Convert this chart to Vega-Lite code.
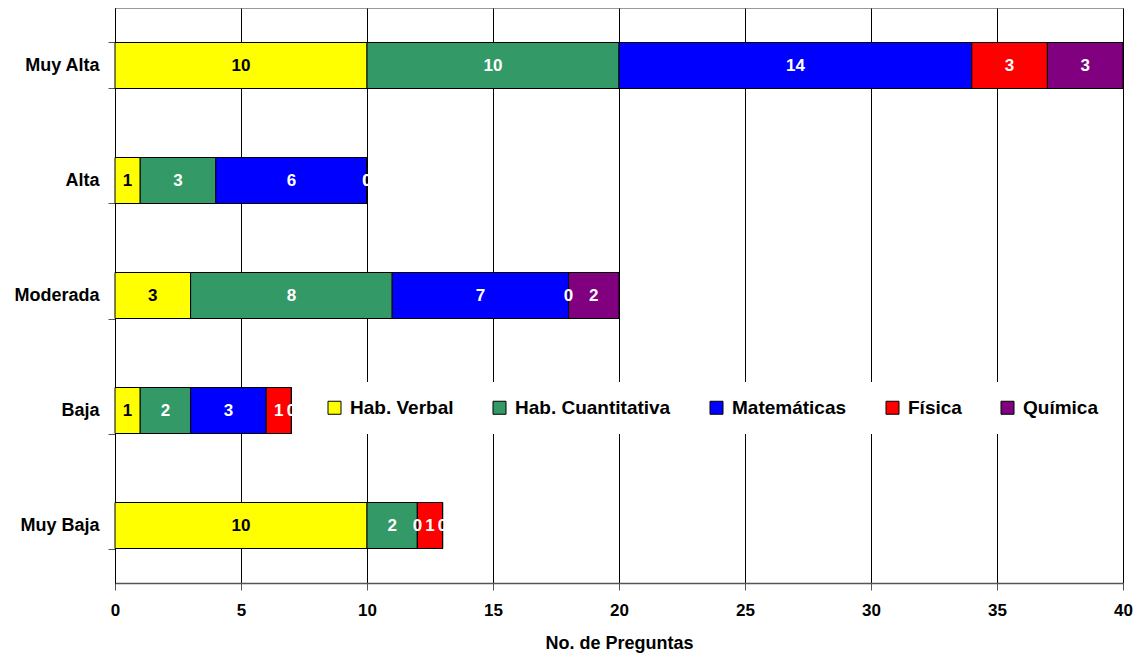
{
  "$schema": "https://vega.github.io/schema/vega-lite/v6.json",
  "width": 1008,
  "height": 575,
  "autosize": "none",
  "padding": {"left": 115, "top": 8, "right": 18, "bottom": 77},
  "background": "white",
  "config": {
    "view": {"stroke": "#999999", "strokeWidth": 1},
    "font": "Liberation Sans"
  },
  "data": {
    "values": [
      {"nivel": "Muy Alta", "serie": "Hab. Verbal", "orden": 1, "valor": 10},
      {"nivel": "Muy Alta", "serie": "Hab. Cuantitativa", "orden": 2, "valor": 10},
      {"nivel": "Muy Alta", "serie": "Matemáticas", "orden": 3, "valor": 14},
      {"nivel": "Muy Alta", "serie": "Física", "orden": 4, "valor": 3},
      {"nivel": "Muy Alta", "serie": "Química", "orden": 5, "valor": 3},
      {"nivel": "Alta", "serie": "Hab. Verbal", "orden": 1, "valor": 1},
      {"nivel": "Alta", "serie": "Hab. Cuantitativa", "orden": 2, "valor": 3},
      {"nivel": "Alta", "serie": "Matemáticas", "orden": 3, "valor": 6},
      {"nivel": "Alta", "serie": "Física", "orden": 4, "valor": 0},
      {"nivel": "Alta", "serie": "Química", "orden": 5, "valor": 0},
      {"nivel": "Moderada", "serie": "Hab. Verbal", "orden": 1, "valor": 3},
      {"nivel": "Moderada", "serie": "Hab. Cuantitativa", "orden": 2, "valor": 8},
      {"nivel": "Moderada", "serie": "Matemáticas", "orden": 3, "valor": 7},
      {"nivel": "Moderada", "serie": "Física", "orden": 4, "valor": 0},
      {"nivel": "Moderada", "serie": "Química", "orden": 5, "valor": 2},
      {"nivel": "Baja", "serie": "Hab. Verbal", "orden": 1, "valor": 1},
      {"nivel": "Baja", "serie": "Hab. Cuantitativa", "orden": 2, "valor": 2},
      {"nivel": "Baja", "serie": "Matemáticas", "orden": 3, "valor": 3},
      {"nivel": "Baja", "serie": "Física", "orden": 4, "valor": 1},
      {"nivel": "Baja", "serie": "Química", "orden": 5, "valor": 0},
      {"nivel": "Muy Baja", "serie": "Hab. Verbal", "orden": 1, "valor": 10},
      {"nivel": "Muy Baja", "serie": "Hab. Cuantitativa", "orden": 2, "valor": 2},
      {"nivel": "Muy Baja", "serie": "Matemáticas", "orden": 3, "valor": 0},
      {"nivel": "Muy Baja", "serie": "Física", "orden": 4, "valor": 1},
      {"nivel": "Muy Baja", "serie": "Química", "orden": 5, "valor": 0}
    ]
  },
  "encoding": {
    "y": {
      "field": "nivel",
      "type": "nominal",
      "sort": ["Muy Alta", "Alta", "Moderada", "Baja", "Muy Baja"],
      "scale": {"paddingInner": 0.6, "paddingOuter": 0.3},
      "axis": {
        "title": null,
        "labelFont": "Liberation Sans",
        "labelFontSize": 18,
        "labelFontWeight": "bold",
        "labelColor": "black",
        "labelPadding": 9,
        "tickBand": "extent",
        "tickSize": 7,
        "tickColor": "#555555",
        "domainColor": "black",
        "domainWidth": 1,
        "grid": false
      }
    }
  },
  "layer": [
    {
      "mark": {"type": "bar", "stroke": "black", "strokeWidth": 1},
      "encoding": {
        "x": {
          "field": "valor",
          "type": "quantitative",
          "stack": "zero",
          "scale": {"domain": [0, 40], "nice": false},
          "axis": {
            "title": "No. de Preguntas",
            "titleFont": "Liberation Sans",
            "titleFontSize": 18,
            "titleFontWeight": "bold",
            "titleColor": "black",
            "titlePadding": 16,
            "values": [0, 5, 10, 15, 20, 25, 30, 35, 40],
            "labelFont": "Liberation Sans",
            "labelFontSize": 17,
            "labelFontWeight": "bold",
            "labelColor": "black",
            "labelPadding": 12,
            "labelFlush": false,
            "tickSize": 7,
            "tickColor": "#555555",
            "domainColor": "#555555",
            "domainWidth": 1.5,
            "grid": true,
            "gridColor": "black",
            "gridOpacity": 1,
            "gridWidth": 1
          }
        },
        "color": {
          "field": "serie",
          "type": "nominal",
          "scale": {
            "domain": ["Hab. Verbal", "Hab. Cuantitativa", "Matemáticas", "Física", "Química"],
            "range": ["#FFFF00", "#339966", "#0000FF", "#FF0000", "#800080"]
          },
          "legend": {
            "title": null,
            "orient": "none",
            "legendX": 194,
            "legendY": 374,
            "direction": "horizontal",
            "columns": 5,
            "fillColor": "white",
            "padding": 16,
            "columnPadding": 36,
            "symbolType": "square",
            "symbolSize": 169,
            "symbolStrokeColor": "black",
            "symbolStrokeWidth": 1,
            "symbolOpacity": 1,
            "labelFont": "Liberation Sans",
            "labelFontSize": 19,
            "labelFontWeight": "bold",
            "labelColor": "black",
            "labelOffset": 6,
            "labelLimit": 300
          }
        },
        "order": {"field": "orden", "type": "quantitative"}
      }
    },
    {
      "mark": {
        "type": "text",
        "font": "Liberation Sans",
        "fontWeight": "bold",
        "fontSize": 17,
        "baseline": "middle",
        "align": "center"
      },
      "encoding": {
        "x": {"field": "valor", "type": "quantitative", "stack": "zero", "bandPosition": 0.5},
        "detail": {"field": "serie", "type": "nominal"},
        "order": {"field": "orden", "type": "quantitative"},
        "text": {"field": "valor", "type": "quantitative"},
        "color": {
          "condition": {"test": "datum.serie === 'Hab. Verbal'", "value": "black"},
          "value": "white"
        }
      }
    }
  ]
}
